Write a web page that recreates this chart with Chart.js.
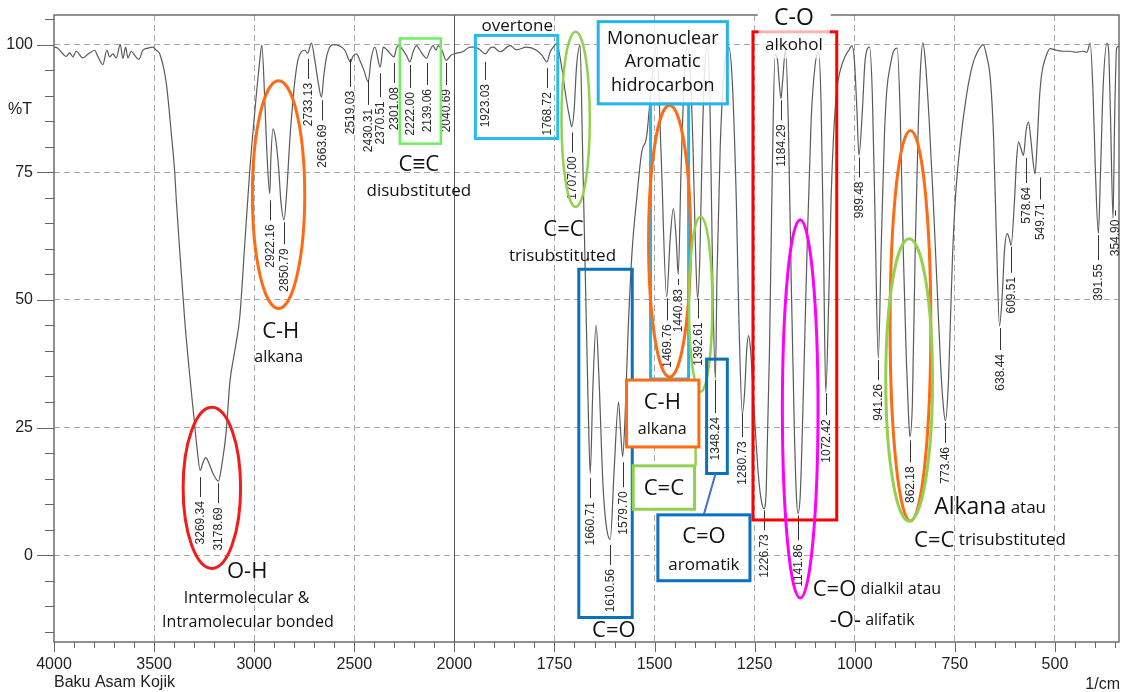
<!DOCTYPE html>
<html><head><meta charset="utf-8">
<script src="https://cdn.jsdelivr.net/npm/chart.js@4.4.1/dist/chart.umd.min.js"></script>
<style>html,body{margin:0;padding:0;background:#fff}#wrap{width:1123px;height:692px;position:relative}</style>
</head><body><div id="wrap"><canvas id="c"></canvas></div>
<script>
// ---------------- DATA ----------------
const waveNumbers = [4000,3981,3956,3939,3922,3906,3889,3856,3831,3797,3781,3756,3736,3722,3706,3689,3669,3656,3642,3631,3614,3597,3576,3556,3531,3506,3489,3472,3439,3414,3397,3389,3372,3347,3322,3302,3287,3269.34,3257,3242,3222,3202,3178.69,3162,3139,3122,3097,3072,3047,3022,2992,2972,2962,2947,2937,2922.16,2917,2906,2892,2877,2867,2850.79,2837,2822,2802,2782,2764,2747,2733.13,2714,2697,2682,2663.69,2652,2637,2606,2572,2547,2519.03,2507,2489,2472,2452,2430.31,2417,2397,2370.51,2355,2335,2301.08,2290,2277,2257,2237,2222.00,2207,2189,2172,2155,2139.06,2122,2106,2092,2081,2062,2040.69,2017,2000,
1979,1961,1949,1936,1923.03,1911,1903,1886,1861,1845,1820,1795,1781,1768.72,1761,1753,1745,1732,1720,1711,1707.00,1701,1695,1686,1680,1673,1666,1660.71,1654,1646,1639,1629,1621,1610.56,1601,1590,1585,1579.70,1574,1566,1556,1545,1532,1520,1509,1495,1484,1469.76,1461,1453,1446,1440.83,1434,1426,1419,1411,1404,1397,1392.61,1387,1381,1376,1369,1362,1356,1348.24,1344,1336,1326,1315,1306,1296,1289,1280.73,1275,1270,1265,1260,1251,1241,1234,1226.73,1221,1213,1206,1199,1193,1189,1184.29,1180,1173,1166,1159,1151,1146,1141.86,1136,1129,1119,1109,1099,1090,1084,1078,1072.42,1065,1059,1053,1045,1036,1024,1014,1007,1001,995,989.48,981,974,963,956,949,941.26,934,926,920,911,904,894,886,879,871,866,862.18,856,849,841,836,830,824,814,804,794,786,779,773.46,766,761,756,749,736,721,706,694,679,671,661,653,646,638.44,631,626,619,614,609.51,601,596,591,585,578.64,572,566,560,555,549.71,544,539,533,524,512,495,480,462,447,430,420,412,405,399,391.55,386,380,370,366,361,354.90,351,346,340];
const transmittance = [99.5,99.3,98.2,97.7,98.4,97.6,98.7,97.4,98.1,98.9,97.7,96.1,98.9,97.6,98.2,97.4,100.0,97.3,99.5,97.4,98.7,97.9,97.1,98.9,99.3,99.5,98.9,98.2,92.4,82.6,75.0,69.5,59.7,46.0,35.2,27.4,21.5,16.6,18.0,19.1,17.6,15.7,14.5,17.6,24.5,33.7,40.0,46.7,61.0,75.4,89.0,96.9,99.9,89.0,79.3,70.8,77.3,83.5,81.3,75.4,69.5,65.7,71.5,81.3,91.0,96.9,98.6,98.9,98.3,100.3,96.9,93.0,89.7,94.0,97.9,100.0,99.7,98.9,96.6,97.7,98.2,96.9,95.0,92.7,96.9,99.5,95.6,99.5,98.9,97.6,99.3,99.8,98.9,97.7,96.6,98.5,99.8,98.9,97.9,97.3,98.9,99.8,98.9,99.8,98.9,96.9,97.9,98.2,
98.6,99.5,99.5,99.0,98.2,99.3,99.5,98.6,99.8,99.0,99.5,98.9,97.9,96.6,98.5,99.5,100.2,95.6,89.1,85.2,83.9,87.1,95.6,99.9,80,55,30,16.0,33,45,35,14,6,3.1,16.6,30,24.5,19.3,26.4,44,59.7,69.5,79,81.9,91,99.5,79.3,50.6,62,67.9,62,55,75,93,99.5,95,80,58,50.3,58,80,93,99.5,90,60,34.5,55,80,95,99.5,93,70,45,27.7,32,40,43,40,28,16,11,9.1,13,40,75,98,97,93,89.4,93,99,85,55,25,12,8.2,12,30,60,85,96,98.5,88,60,32,50,70,82,91,95,97.7,99,99.8,97,88,78.3,87,97,99.5,90,65,38.5,60,82,91,96,98.5,99.3,85,60,38,28,23.2,30,60,85,95,100.4,97,85,69.5,52,38,29.4,26.3,34,46,58,69.5,81,90,96,98.5,100,97.9,93,81.3,61.7,44.9,51.9,59.7,63,62,60.7,69.5,77.3,80.9,79.7,78.3,83.2,84.8,81.3,77.3,74.7,81.3,89.1,94.3,97.3,99.2,98.9,98.7,98.7,98.5,98.7,98.5,100.3,91,75.4,63,75.4,91,100.3,98.9,85.2,66,85,99.3,99.7];
const xTickWaves = [4000,3500,3000,2500,2000,1750,1500,1250,1000,750,500];
const yTickValues = [0,25,50,75,100];
const peakLabels = ['3269.34','3178.69','2922.16','2850.79','2733.13','2663.69','2519.03','2430.31','2370.51','2301.08','2222.00','2139.06','2040.69','1923.03','1768.72','1707.00','1660.71','1610.56','1579.70','1469.76','1440.83','1392.61','1348.24','1280.73','1226.73','1184.29','1141.86','1072.42','989.48','941.26','862.18','773.46','638.44','609.51','578.64','549.71','391.55','354.90'];

// ---------------- LAYOUT (annotation placement) ----------------
// [leader top (%T), leader length px, x shift px]
const peakLayout = [[15.3,20,0],[14.1,20,0],[69.5,20,0],[65.2,22,0],[97.2,20,0],[89.1,20,0],[97.2,28,0],[93.1,25,0],[94.4,24,0],[96.4,20,0],[96.0,23,0],[96.4,22,0],[96.4,22,0],[96.6,18,0],[95.4,20,0],[82.8,20,0],[15.1,20,0],[2.0,20,0],[18.2,25,0],[50.3,22,0],[54.1,6,0],[50.3,20,0],[34.3,33,0],[27.8,24,0],[8.8,20,0],[89.1,20,0],[7.8,25,0],[31.7,22,0],[77.9,20,0],[38.2,20,0],[22.5,22,0],[25.9,20,0],[44.5,22,0],[60.4,26,0],[77.8,25,3],[74.0,22,5],[62.7,25,0],[67.5,5,2]];

const toU = w => w >= 2000 ? (4000 - w) / 2 : 3000 - w;
const fromU = u => u <= 1000 ? 4000 - 2 * u : 3000 - u;

const shapes = [
  {k:'ellipse', w:[3355,3068], t:[29,-2.6], c:'#f21c1c', lw:3},
  {k:'ellipse', w:[3009,2747.5], t:[92.9,48.3], c:'#ff6a13', lw:3},
  {k:'rect', w:[2272.5,2067.5], t:[101.2,80.6], c:'#6eef5e', lw:2.5},
  {k:'rect', w:[1947.5,1741.75], t:[101.8,81.6], c:'#25bcee', lw:3},
  {k:'ellipse', w:[1732.5,1661.75], t:[102.5,68.2], c:'#92d050', lw:2.5},
  {k:'rect', w:[1510,1415], t:[88.4,34.5], c:'#25b4ec', lw:3},
  {k:'ellipse', w:[1515,1410], t:[88.1,34.9], c:'#ff6a13', lw:3},
  {k:'ellipse', w:[1414.25,1355.75], t:[66.3,32], c:'#92d050', lw:2.5},
  {k:'line', w:[1397.5,1397.5], t:[32,17.5], c:'#92d050', lw:2.5},
  {k:'rect', w:[1689.25,1555.75], t:[56,-12.2], c:'#0a70c0', lw:3},
  {k:'rect', w:[1370,1318.25], t:[38.4,16], c:'#0a70c0', lw:3},
  {k:'line', w:[1347.5,1376.75], t:[16,8], c:'#4472c4', lw:2},
  {k:'rect', w:[1254.25,1045], t:[102.5,6.9], c:'#ff0000', lw:3},
  {k:'ellipse', w:[1180.75,1091.75], t:[65.7,-8.4], c:'#ff00ff', lw:3},
  {k:'ellipse', w:[911.75,810], t:[83.2,6.7], c:'#ff6a13', lw:3},
  {k:'ellipse', w:[922.5,805.75], t:[62,6.7], c:'#92d050', lw:3},
  {k:'rect', w:[1640.75,1318.25], t:[104.5,88.4], c:'#25b4ec', lw:3, fill:'rgba(255,255,255,0.85)'},
  {k:'rect', w:[1570,1389.25], t:[34.3,21.2], c:'#ff6a13', lw:3, fill:'#ffffff'},
  {k:'rect', w:[1553.25,1400], t:[17.5,9], c:'#92d050', lw:3, fill:'#ffffff'},
  {k:'rect', w:[1491.75,1261.75], t:[7.9,-5], c:'#0a70c0', lw:3, fill:'#ffffff'},
  {k:'fill', w:[1242.5,1060], t:[109,103.2], fill:'#ffffff'},
  {k:'fill', w:[1240,1062], t:[103.2,97.3], fill:'rgba(255,255,255,0.7)'}
];
const ANN_FONT = '"Open Sans", "Noto Sans", sans-serif';
const texts = [
  {p:[['O-H',22]], w:3035, t:-3.3},
  {p:[['Intermolecular &',16]], w:3038, t:-8.5},
  {p:[['Intramolecular bonded',16]], w:3031, t:-13.1},
  {p:[['C-H',22]], w:2867.5, t:43.7},
  {p:[['alkana',16]], w:2877.5, t:38.8},
  {p:[['C≡C',22]], w:2177.5, t:76.4},
  {p:[['disubstituted',17]], w:2177.5, t:71.3},
  {p:[['overtone',17]], w:1843, t:103.6},
  {p:[['C=C',22]], w:1727.5, t:63.7},
  {p:[['trisubstituted',17]], w:1730, t:58.6},
  {p:[['Mononuclear',18]], w:1479.5, t:101.2},
  {p:[['Aromatic',18]], w:1479.5, t:96.6},
  {p:[['hidrocarbon',18]], w:1479.5, t:91.9},
  {p:[['C-H',22]], w:1480.75, t:29.8},
  {p:[['alkana',16]], w:1480.75, t:24.6},
  {p:[['C=C',22]], w:1476.75, t:13},
  {p:[['C=O',22]], w:1601.75, t:-14.7},
  {p:[['C=O',22]], w:1376.75, t:3.6},
  {p:[['aromatik',17]], w:1376.75, t:-1.9},
  {p:[['C-O',23]], w:1152, t:105.2},
  {p:[['alkohol',17]], w:1152, t:99.9},
  {p:[['C=O',22],[' dialkil atau',16]], w:1105, t:-6.7, left:true},
  {p:[['-O-',22],[' alifatik',16]], w:1062.5, t:-12.8, left:true},
  {p:[['Alkana',23],[' atau',17]], w:801.75, t:9.3, left:true},
  {p:[['C=C',22],[' trisubstituted',17]], w:851.75, t:2.9, left:true}
];

// ---------------- CHART ----------------
const AX_FONT = '"Liberation Sans", Arial, sans-serif';
const annot = {
  id:'annot',
  beforeDatasetsDraw(chart){
    const {ctx, chartArea:a, scales:{x,y}} = chart;
    ctx.save();
    ctx.strokeStyle = '#555'; ctx.lineWidth = 1;
    const xs = Math.round(x.getPixelForValue(toU(2000))) + 0.5;
    ctx.beginPath(); ctx.moveTo(xs, a.top); ctx.lineTo(xs, a.bottom); ctx.stroke();
    ctx.strokeStyle = '#666'; ctx.lineWidth = 1;
    for (let u = 0; u <= x.max; u += 50) {
      const px = Math.round(x.getPixelForValue(u)) + 0.5;
      const len = (u % 250 === 0) ? 10 : 6;
      ctx.beginPath(); ctx.moveTo(px, a.bottom); ctx.lineTo(px, a.bottom + len); ctx.stroke();
    }
    for (let t = -15; t <= 105; t += 5) {
      const py = Math.round(y.getPixelForValue(t)) + 0.5;
      const len = (t % 25 === 0) ? 17 : 9;
      ctx.beginPath(); ctx.moveTo(a.left - len, py); ctx.lineTo(a.left, py); ctx.stroke();
    }
    ctx.strokeStyle = '#6e6e6e'; ctx.lineWidth = 1.5;
    ctx.strokeRect(a.left, a.top, a.right - a.left, a.bottom - a.top);
    ctx.fillStyle = '#222';
    ctx.font = '16px ' + AX_FONT; ctx.textAlign = 'left'; ctx.textBaseline = 'middle';
    ctx.fillText('%T', 8, 110);
    ctx.font = '16px ' + AX_FONT;
    ctx.fillText('Baku Asam Kojik', 54, 683);
    ctx.textAlign = 'right';
    ctx.fillText('1/cm', 1120, 685);
    ctx.restore();
  },
  afterDatasetsDraw(chart){
    const {ctx, scales:{x,y}} = chart;
    const X = w => x.getPixelForValue(toU(w));
    const Y = t => y.getPixelForValue(t);
    ctx.save();
    ctx.fillStyle = '#2a2a2a'; ctx.strokeStyle = '#333'; ctx.lineWidth = 1;
    ctx.font = '12px ' + AX_FONT;
    peakLabels.forEach((lab, i) => {
      const [tTop, len, dx] = peakLayout[i];
      const px = Math.round(X(parseFloat(lab)) + dx);
      const py = Y(tTop);
      ctx.beginPath(); ctx.moveTo(px + 0.5, py); ctx.lineTo(px + 0.5, py + len); ctx.stroke();
      ctx.save(); ctx.translate(px + 1, py + len + 4); ctx.rotate(-Math.PI / 2);
      ctx.textAlign = 'right'; ctx.textBaseline = 'middle'; ctx.fillText(lab, 0, 0);
      ctx.restore();
    });
    shapes.forEach(s => {
      const x1 = X(s.w[0]), x2 = X(s.w[1]), y1 = Y(s.t[0]), y2 = Y(s.t[1]);
      ctx.lineWidth = s.lw || 1; ctx.strokeStyle = s.c || '#000';
      if (s.k === 'ellipse') {
        ctx.beginPath();
        ctx.ellipse((x1 + x2) / 2, (y1 + y2) / 2, Math.abs(x2 - x1) / 2, Math.abs(y2 - y1) / 2, 0, 0, Math.PI * 2);
        ctx.stroke();
      } else if (s.k === 'rect') {
        if (s.fill) { ctx.fillStyle = s.fill; ctx.fillRect(x1, y1, x2 - x1, y2 - y1); }
        ctx.strokeRect(x1, y1, x2 - x1, y2 - y1);
      } else if (s.k === 'fill') {
        ctx.fillStyle = s.fill; ctx.fillRect(x1, y1, x2 - x1, y2 - y1);
      } else if (s.k === 'line') {
        ctx.beginPath(); ctx.moveTo(x1, y1); ctx.lineTo(x2, y2); ctx.stroke();
      }
    });
    ctx.fillStyle = '#111'; ctx.textBaseline = 'middle'; ctx.textAlign = 'left';
    texts.forEach(tx => {
      let total = 0;
      tx.p.forEach(([s, sz]) => { ctx.font = sz + 'px ' + ANN_FONT; total += ctx.measureText(s).width; });
      let cx = X(tx.w) - (tx.left ? 0 : total / 2);
      const cy = Y(tx.t);
      tx.p.forEach(([s, sz]) => { ctx.font = sz + 'px ' + ANN_FONT; ctx.fillText(s, cx, cy); cx += ctx.measureText(s).width; });
    });
    ctx.restore();
  }
};

const data = waveNumbers.map((w, i) => ({x: toU(w), y: transmittance[i]}));

new Chart(document.getElementById('c'), {
  type: 'line',
  data: { datasets: [{ data, borderColor: '#5a5a5a', borderWidth: 1.2, pointRadius: 0, fill: false, cubicInterpolationMode: 'monotone' }] },
  options: {
    responsive: true, maintainAspectRatio: false, animation: false, devicePixelRatio: 1,
    layout: { padding: { top: 15, right: 4, left: 0, bottom: 0 } },
    plugins: { legend: { display: false }, tooltip: { enabled: false } },
    scales: {
      x: {
        type: 'linear', min: 0, max: toU(340),
        afterBuildTicks: s => { s.ticks = xTickWaves.map(w => ({ value: toU(w) })); },
        afterFit: s => { s.height = 50; s.paddingLeft = 0; s.paddingRight = 0; s.paddingTop = 0; s.paddingBottom = 0; },
        ticks: { callback: v => String(Math.round(fromU(v))), font: { size: 16, family: AX_FONT }, color: '#222', padding: 13, maxRotation: 0, autoSkip: false },
        grid: { drawTicks: false, color: c => (c.tick && (c.tick.value === 0 || c.tick.value === 1000)) ? 'rgba(0,0,0,0)' : '#a8a8a8', lineWidth: 1 },
        border: { display: false, dash: [6, 4] }
      },
      y: {
        type: 'linear', min: -17, max: 105.8,
        afterBuildTicks: s => { s.ticks = yTickValues.map(v => ({ value: v })); },
        afterFit: s => { s.width = 54; s.paddingTop = 0; s.paddingBottom = 0; s.paddingLeft = 0; s.paddingRight = 0; },
        ticks: { font: { size: 16, family: AX_FONT }, color: '#222', padding: 21 },
        grid: { drawTicks: false, color: '#a8a8a8', lineWidth: 1 },
        border: { display: false, dash: [6, 4] }
      }
    }
  },
  plugins: [annot]
});
</script>
</body></html>
